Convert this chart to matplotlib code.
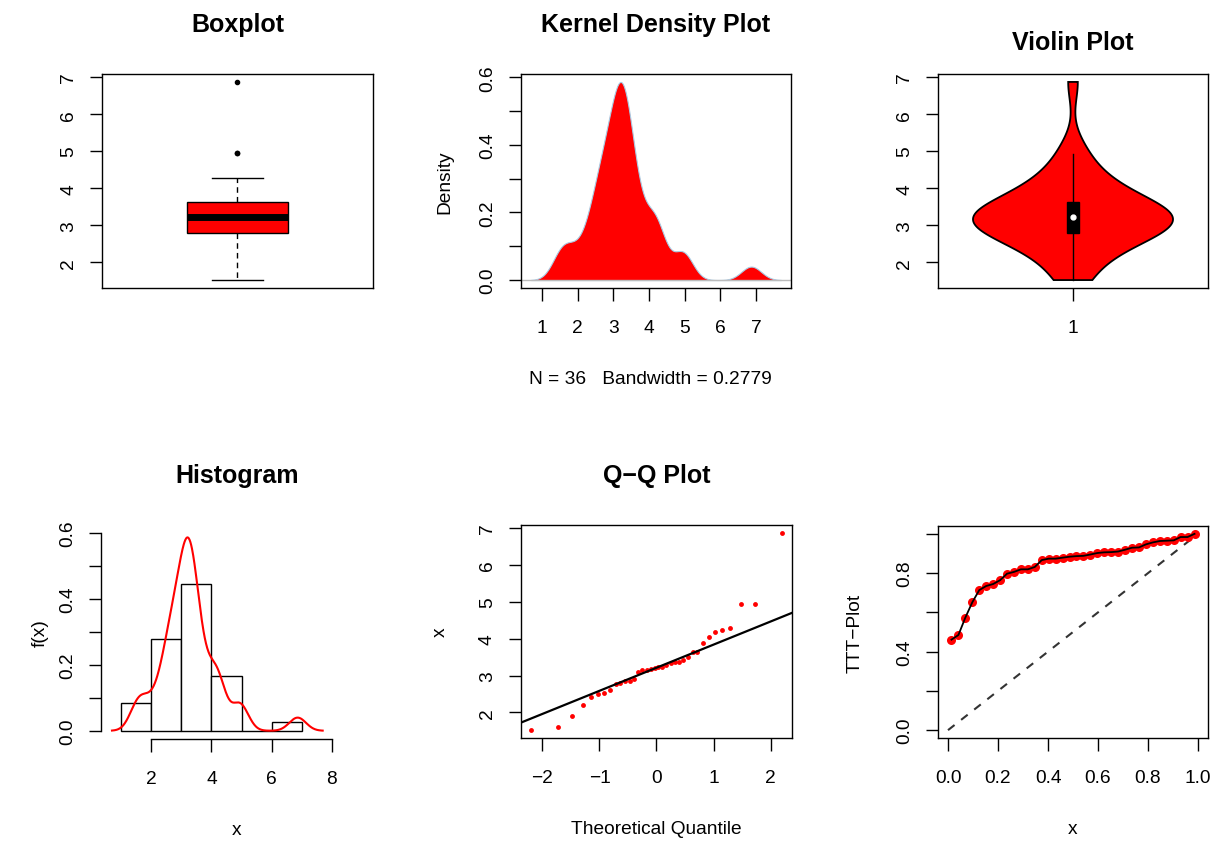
import numpy as np
import matplotlib
matplotlib.use("Agg")
import matplotlib.pyplot as plt
from matplotlib.patches import Rectangle
from statistics import NormalDist

# data (n = 36)
x = np.array([1.52, 1.60, 1.91, 2.19, 2.42, 2.50, 2.54, 2.62, 2.76, 2.80,
              2.86, 2.86, 2.92, 3.10, 3.14, 3.14, 3.17, 3.20, 3.22, 3.23,
              3.28, 3.34, 3.37, 3.38, 3.41, 3.51, 3.63, 3.65, 3.88, 4.05,
              4.19, 4.23, 4.28, 4.95, 4.95, 6.87])
bw = 0.2779
hist_breaks = [1, 2, 3, 4, 5, 6, 7]

plt.rcParams['font.family'] = ['Liberation Sans', 'DejaVu Sans']
plt.rcParams['font.size'] = 13.8
plt.rcParams['axes.linewidth'] = 1.0

W, H = 1224, 845
fig = plt.figure(figsize=(W / 100, H / 100), dpi=100)


def panel(l, t, r, b):
    return fig.add_axes([l / W, 1 - b / H, (r - l) / W, (b - t) / H])


def rstyle(ax):
    ax.tick_params(direction='out', length=9, width=1, labelsize=13.8)
    ax.tick_params(axis='x', pad=13)
    ax.tick_params(axis='y', pad=9, labelrotation=90)
    for lab in ax.get_yticklabels():
        lab.set_va('center')


def ylab(ax, text, px, width):
    ax.set_ylabel(text)
    ax.yaxis.set_label_coords(-px / width, 0.5)
    ax.yaxis.label.set_va('center')


def xlab(ax, text, px, height, xc=0.5):
    ax.set_xlabel(text)
    ax.xaxis.set_label_coords(xc, -px / height)
    ax.xaxis.label.set_va('center')


def gauss_kde(data, grid, h):
    z = (grid[:, None] - data[None, :]) / h
    return np.exp(-0.5 * z ** 2).sum(axis=1) / (len(data) * h * np.sqrt(2 * np.pi))


n = len(x)
xs = np.sort(x)
grid = np.linspace(xs[0] - 3 * bw, xs[-1] + 3 * bw, 512)
dens = gauss_kde(xs, grid, bw)

# R fivenum hinges
med = np.median(xs)
lo_h = np.median(xs[: (n + 1) // 2])
hi_h = np.median(xs[n // 2:])
iqr = hi_h - lo_h
up_fence = hi_h + 1.5 * iqr
lo_fence = lo_h - 1.5 * iqr
inside = xs[(xs >= lo_fence) & (xs <= up_fence)]
outl = xs[(xs < lo_fence) | (xs > up_fence)]
yr = (xs[0] - 0.04 * (xs[-1] - xs[0]), xs[-1] + 0.04 * (xs[-1] - xs[0]))
title_kw = dict(fontsize=18, fontweight='bold')

# ---- Boxplot
ax1 = panel(102, 75, 373, 289)
ax1.add_patch(Rectangle((0.8, lo_h), 0.4, iqr, facecolor='red', edgecolor='black', lw=1, zorder=2))
ax1.plot([0.8, 1.2], [med, med], color='black', lw=5, solid_capstyle='butt', zorder=3)
ax1.plot([1, 1], [hi_h, inside.max()], color='black', lw=1, ls=(0, (4, 3)))
ax1.plot([1, 1], [lo_h, inside.min()], color='black', lw=1, ls=(0, (4, 3)))
ax1.plot([0.9, 1.1], [inside.max()] * 2, color='black', lw=1)
ax1.plot([0.9, 1.1], [inside.min()] * 2, color='black', lw=1)
ax1.plot(np.ones(len(outl)), outl, 'o', color='black', ms=3)
ax1.set_xlim(0.46, 1.54)
ax1.set_ylim(*yr)
ax1.set_xticks([])
ax1.set_yticks([2, 3, 4, 5, 6, 7])
rstyle(ax1)
ax1.set_title('Boxplot', pad=31, **title_kw)

# ---- Kernel density
ax2 = panel(521, 75, 791, 289)
ax2.axhline(0, color='#bbbbbb', lw=1)
ax2.fill_between(grid, dens, color='red', edgecolor='#a9cbe3', lw=0.8)
ax2.set_xlim(grid[0] - 0.04 * (grid[-1] - grid[0]), grid[-1] + 0.04 * (grid[-1] - grid[0]))
ax2.set_ylim(-0.04 * dens.max(), 1.04 * dens.max())
ax2.set_xticks(range(1, 8))
ax2.set_yticks(np.round(np.arange(0, 0.61, 0.1), 1))
ax2.set_yticklabels(['0.0', '', '0.2', '', '0.4', '', '0.6'])
rstyle(ax2)
ylab(ax2, 'Density', 76, 270)
xlab(ax2, 'N = %d   Bandwidth = %.4f' % (n, bw), 91, 214, xc=0.48)
ax2.set_title('Kernel Density Plot', pad=31, **title_kw)

# ---- Violin
ax3 = panel(938, 75, 1208, 289)
h = xs.std(ddof=1) * (4 / (3 * n)) ** 0.2
vg = np.linspace(xs[0], xs[-1], 512)
vd = gauss_kde(xs, vg, h)
half = 0.4 * vd / vd.max()
ax3.fill(np.concatenate([1 - half, (1 + half)[::-1]]), np.concatenate([vg, vg[::-1]]),
         facecolor='red', edgecolor='black', lw=1.3)
ax3.plot([1, 1], [xs[0], min(up_fence, xs[-1])], color='black', lw=1)
ax3.add_patch(Rectangle((0.975, lo_h), 0.05, iqr, facecolor='black', edgecolor='black', zorder=3))
ax3.plot([1], [med], 'o', color='white', ms=3.5, zorder=4)
ax3.set_xlim(0.46, 1.54)
ax3.set_ylim(*yr)
ax3.set_xticks([1])
ax3.set_yticks([2, 3, 4, 5, 6, 7])
rstyle(ax3)
ax3.set_title('Violin Plot', pad=18, **title_kw)

# ---- Histogram
ax4 = panel(101, 526, 373, 740)
ax4.hist(xs, bins=hist_breaks, density=True, facecolor='white', edgecolor='black', lw=1)
ax4.plot(grid, dens, color='red', lw=1.5)
ax4.set_xlim(0.32, 9.38)
ax4.set_ylim(-0.025, 0.624)
ax4.set_xticks([2, 4, 6, 8])
ax4.set_yticks(np.round(np.arange(0, 0.61, 0.1), 1))
ax4.set_yticklabels(['0.0', '', '0.2', '', '0.4', '', '0.6'])
for s in ['top', 'right']:
    ax4.spines[s].set_visible(False)
ax4.spines['bottom'].set_bounds(2, 8)
ax4.spines['left'].set_bounds(0, 0.6)
rstyle(ax4)
xlab(ax4, 'x', 91, 214)
ylab(ax4, 'f(x)', 61, 272)
ax4.set_title('Histogram', pad=31, **title_kw)

# ---- Q-Q plot
ax5 = panel(521, 526, 792, 739)
nd = NormalDist()
theo = np.array([nd.inv_cdf((i - 0.5) / n) for i in range(1, n + 1)])
q1, q3 = np.quantile(xs, [0.25, 0.75])
t1, t3 = nd.inv_cdf(0.25), nd.inv_cdf(0.75)
slope = (q3 - q1) / (t3 - t1)
ax5.plot(theo, xs, 'o', color='red', ms=3.5, mec='none')
ax5.axline((t1, q1), slope=slope, color='black', lw=1.6)
ax5.set_xlim(theo[0] - 0.04 * (theo[-1] - theo[0]), theo[-1] + 0.04 * (theo[-1] - theo[0]))
ax5.set_ylim(*yr)
ax5.set_xticks([-2, -1, 0, 1, 2])
ax5.set_yticks([2, 3, 4, 5, 6, 7])
rstyle(ax5)
xlab(ax5, 'Theoretical Quantile', 91, 213)
ylab(ax5, 'x', 81, 271)
ax5.set_title('Q\u2212Q Plot', pad=31, **title_kw)

# ---- TTT plot
ax6 = panel(938, 527, 1208, 739)
idx = np.arange(1, n + 1)
ttt = (np.cumsum(xs) + (n - idx) * xs) / xs.sum()
u = (idx - 0.5) / n
ax6.plot([0, 1], [0, 1], color='#333333', lw=1.5, ls=(0, (4, 4)))
ax6.plot(u, ttt, 'o', color='red', ms=6.5, mec='none')
ax6.plot(u, ttt, color='black', lw=1.3)
ax6.set_xlim(-0.04, 1.04)
ax6.set_ylim(-0.04, 1.04)
ax6.set_xticks(np.round(np.arange(0, 1.01, 0.2), 1))
ax6.set_yticks(np.round(np.arange(0, 1.01, 0.2), 1))
ax6.set_yticklabels(['0.0', '', '0.4', '', '0.8', ''])
rstyle(ax6)
xlab(ax6, 'x', 91, 212)
ylab(ax6, 'TTT\u2212Plot', 83, 270)

fig.savefig('out.png', dpi=100)
